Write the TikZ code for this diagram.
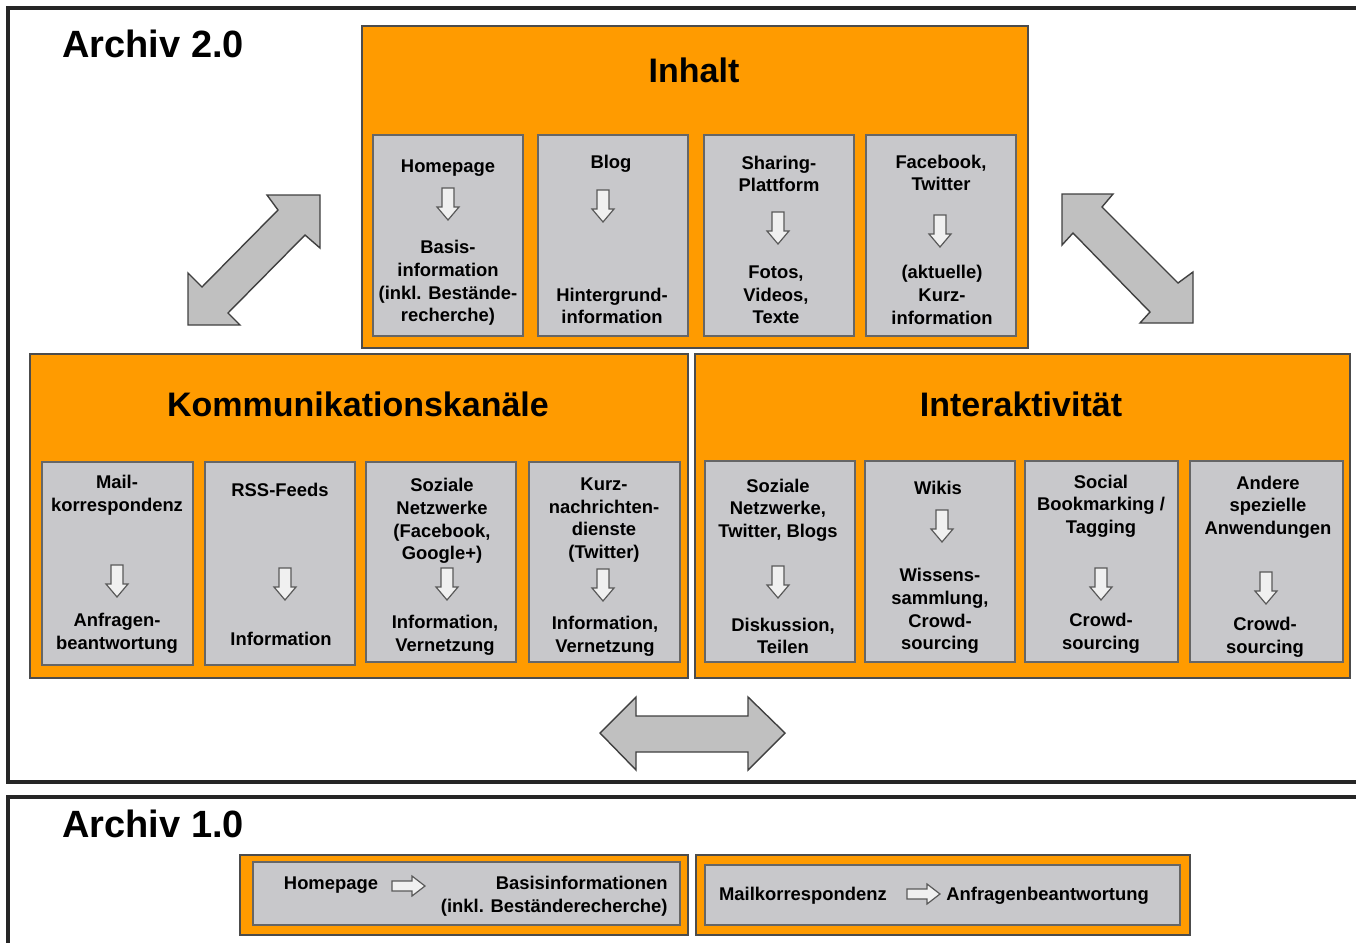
\documentclass[tikz,border=0pt]{standalone}
\usepackage{fontspec}
\setmainfont{Liberation Sans}
\usetikzlibrary{fit}
\definecolor{org}{RGB}{255,155,0}
\definecolor{boxgray}{RGB}{200,200,203}
\definecolor{bigarrow}{RGB}{192,192,192}
\tikzset{
  orangebox/.style={draw=black!70, fill=org, line width=0.7pt, inner sep=0pt},
  graybox/.style={draw=black!60, fill=boxgray, line width=0.7pt, inner sep=0pt},
  btxt/.style={font=\bfseries\fontsize{9.2}{11.3}\selectfont, align=center, inner sep=0pt, yshift=-1pt},
  ttl/.style={font=\bfseries\fontsize{17}{20}\selectfont, inner sep=0pt},
  archtitle/.style={font=\bfseries\fontsize{19}{22}\selectfont, inner sep=0pt, anchor=west},
  outarrow/.style={draw=black!65, fill=gray!12, line width=0.6pt, line join=miter},
  blockarrow/.style={draw=black!75, fill=bigarrow, line width=0.7pt, line join=miter},
  frame/.style={draw=black!85, line width=1.6pt}
}
\newcommand\darr[2]{\draw[outarrow] ({#1-6},#2) -- ({#1+6},#2) -- ({#1+6},{#2+19}) -- ({#1+11},{#2+19}) -- (#1,{#2+32}) -- ({#1-11},{#2+19}) -- ({#1-6},{#2+19}) -- cycle;}
\newcommand\rarr[2]{\draw[outarrow] (#1,{#2-5}) -- ({#1+20},{#2-5}) -- ({#1+20},{#2-10}) -- ({#1+33},#2) -- ({#1+20},{#2+10}) -- ({#1+20},{#2+5}) -- (#1,{#2+5}) -- cycle;}
\begin{document}
\begin{tikzpicture}[x=0.5pt,y=-0.5pt]
\useasboundingbox (0,0) rectangle (1356,943);
% frames
\draw[frame] (1360,8) -- (8,8) -- (8,782) -- (1360,782);
\draw[frame] (1360,797) -- (8,797) -- (8,947);
\node[archtitle] (a2) at (62,44) {Archiv 2.0};
\node[archtitle] (a1) at (62,824) {Archiv 1.0};

% ===== Inhalt =====
\node[orangebox, fit={(362,26) (1028,348)}] (inh) {};
\node[ttl] (inht) at (694,70) {Inhalt};
\node[graybox, fit={(373,135) (523,336)}] (i1) {};
\node[graybox, fit={(538,135) (688,336)}] (i2) {};
\node[graybox, fit={(704,135) (854,336)}] (i3) {};
\node[graybox, fit={(866,135) (1016,336)}] (i4) {};
\node[btxt] (i1a) at (448,166) {Homepage};
\darr{448}{188}
\node[btxt] (i1b) at (448,281) {Basis-\\information\\(inkl. Bestände-\\recherche)};
\node[btxt] (i2a) at (611,162) {Blog};
\darr{603}{190}
\node[btxt] (i2b) at (612,304) {Hintergrund-\\information};
\node[btxt] (i3a) at (779,172) {Sharing-\\Plattform};
\darr{778}{212}
\node[btxt] (i3b) at (776,293) {Fotos,\\Videos,\\Texte};
\node[btxt] (i4a) at (941,171) {Facebook,\\Twitter};
\darr{940}{215}
\node[btxt] (i4b) at (942,293) {(aktuelle)\\Kurz-\\information};

% ===== Kommunikationskanaele =====
\node[orangebox, fit={(30,354) (688,678)}] (kom) {};
\node[ttl] (komt) at (358,404) {Kommunikationskanäle};
\node[graybox, fit={(42,462) (193,665)}] (k1) {};
\node[graybox, fit={(205,462) (355,665)}] (k2) {};
\node[graybox, fit={(366,462) (516,662)}] (k3) {};
\node[graybox, fit={(529,462) (680,662)}] (k4) {};
\node[btxt] (k1a) at (117,493) {Mail-\\korrespondenz};
\darr{117}{565}
\node[btxt] (k1b) at (117,631) {Anfragen-\\beantwortung};
\node[btxt] (k2a) at (280,488) {RSS-Feeds};
\darr{285}{568}
\node[btxt] (k2b) at (281,637) {Information};
\node[btxt] (k3a) at (442,519) {Soziale\\Netzwerke\\(Facebook,\\Google+)};
\darr{447}{568}
\node[btxt] (k3b) at (445,633) {Information,\\Vernetzung};
\node[btxt] (k4a) at (604,518) {Kurz-\\nachrichten-\\dienste\\(Twitter)};
\darr{603}{569}
\node[btxt] (k4b) at (605,634) {Information,\\Vernetzung};

% ===== Interaktivitaet =====
\node[orangebox, fit={(695,354) (1350,678)}] (int) {};
\node[ttl] (intt) at (1021,404) {Interaktivität};
\node[graybox, fit={(705,461) (855,662)}] (n1) {};
\node[graybox, fit={(865,461) (1015,662)}] (n2) {};
\node[graybox, fit={(1025,461) (1178,662)}] (n3) {};
\node[graybox, fit={(1190,461) (1343,662)}] (n4) {};
\node[btxt] (n1a) at (778,508) {Soziale\\Netzwerke,\\Twitter, Blogs};
\darr{778}{566}
\node[btxt] (n1b) at (783,634) {Diskussion,\\Teilen};
\node[btxt] (n2a) at (938,486) {Wikis};
\darr{942}{510}
\node[btxt] (n2b) at (940,609) {Wissens-\\sammlung,\\Crowd-\\sourcing};
\node[btxt] (n3a) at (1101,504) {Social\\Bookmarking /\\Tagging};
\darr{1101}{568}
\node[btxt] (n3b) at (1101,631) {Crowd-\\sourcing};
\node[btxt] (n4a) at (1268,505) {Andere\\spezielle\\Anwendungen};
\darr{1266}{572}
\node[btxt] (n4b) at (1265,635) {Crowd-\\sourcing};

% ===== big block arrows =====
\draw[blockarrow] (267,195) -- (320,195) -- (320,248) -- (305,235) -- (228,313) -- (240,325) -- (188,325) -- (188,273) -- (202,287) -- (278,210) -- cycle;
\draw[blockarrow] (1062,194) -- (1113,194) -- (1102,207) -- (1178,283) -- (1193,272) -- (1193,323) -- (1140,323) -- (1150,312) -- (1073,233) -- (1062,245) -- cycle;
\draw[blockarrow] (600,733) -- (636,697) -- (636,716) -- (748,716) -- (748,697) -- (785,733) -- (748,770) -- (748,752) -- (636,752) -- (636,770) -- cycle;

% ===== Archiv 1.0 =====
\node[orangebox, fit={(240,855) (688,935)}] (b1) {};
\node[graybox, fit={(253,862) (680,925)}] (b1g) {};
\node[orangebox, fit={(696,855) (1190,935)}] (b2) {};
\node[graybox, fit={(705,865) (1180,925)}] (b2g) {};
\node[btxt] (b1a) at (331,883) {Homepage};
\rarr{392}{886}
\node[btxt, align=right, anchor=east] (b1b) at (668,894) {Basisinformationen\\(inkl. Beständerecherche)};
\node[btxt] (b2a) at (803,894) {Mailkorrespondenz};
\rarr{907}{894}
\node[btxt, anchor=west] (b2b) at (946,894) {Anfragenbeantwortung};
\end{tikzpicture}
\end{document}
